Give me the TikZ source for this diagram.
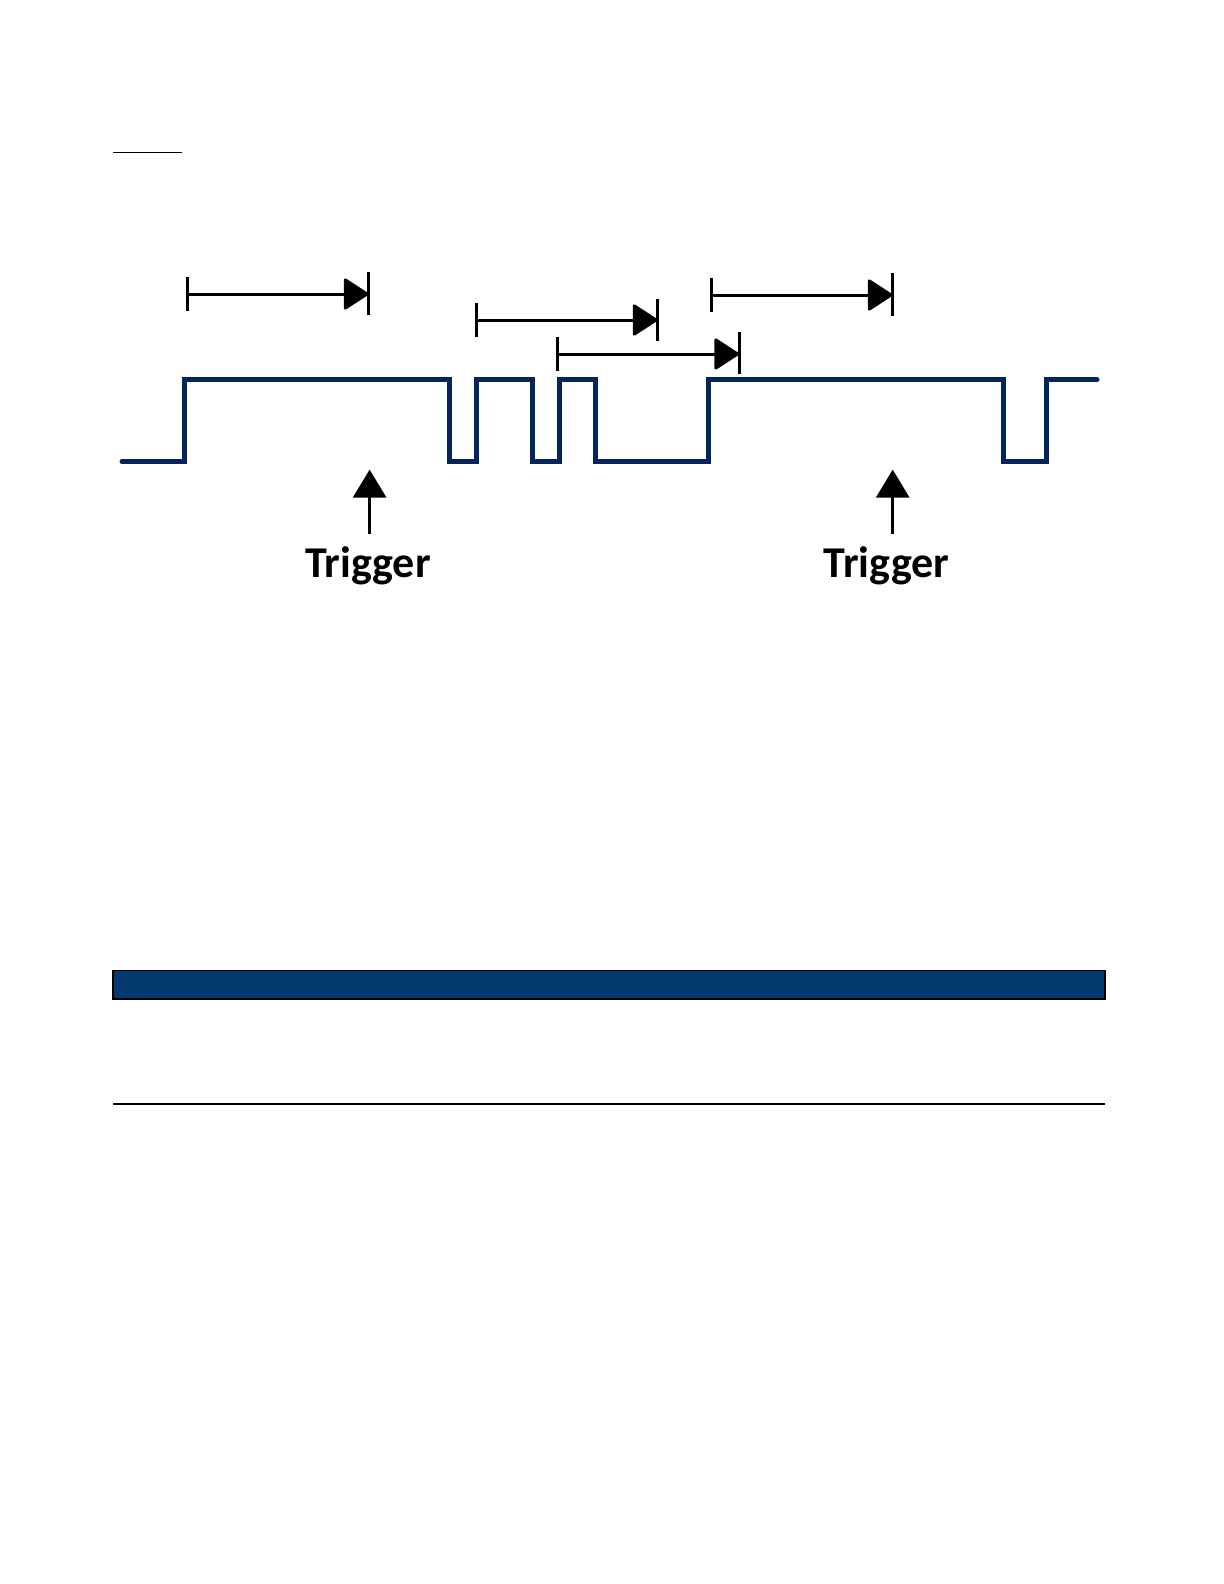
\documentclass[tikz,border=0pt]{standalone}
\usepackage{fontspec}
\setmainfont{Carlito}
\usetikzlibrary{arrows.meta}
\definecolor{wave}{RGB}{6,36,92}
\definecolor{barblue}{RGB}{2,58,112}
\tikzset{
  wavestyle/.style={draw=wave,line width=2.5pt,line join=miter,line cap=round},
  measure/.style={draw=black,line width=1.5pt,-{Triangle[length=13pt,width=16.5pt,round]}},
  tickbar/.style={draw=black,line width=1.5pt},
  trig/.style={draw=black,line width=1.5pt,-{Triangle[length=14pt,width=16.5pt]}},
  triglabel/.style={font=\bfseries\fontsize{22}{26}\selectfont,inner sep=0pt,anchor=base}
}
\begin{document}
\begin{tikzpicture}[x=0.5pt,y=-0.5pt]
\useasboundingbox (0,0) rectangle (1224,1584);
% top short rule
\coordinate (r1) at (113,152.5);
\coordinate (r2) at (182,152.5);
\draw[line width=0.6pt] (r1) -- (r2);
% waveform
\draw[wavestyle] (122,461.5) -- (184,461.5) -- (184,379.7) -- (449,379.7) -- (449,461.5)
  -- (476.5,461.5) -- (476.5,379.7) -- (532,379.7) -- (532,461.5)
  -- (559.5,461.5) -- (559.5,379.7) -- (595,379.7) -- (595,461.5)
  -- (708,461.5) -- (708,379.7) -- (1003,379.7) -- (1003,461.5)
  -- (1046,461.5) -- (1046,379.7) -- (1097,379.7);
% measurement arrow 1
\coordinate (a1s) at (187,294);
\coordinate (a1e) at (368.5,294);
\draw[tickbar] (187,277) -- (187,311);
\draw[tickbar] (368.5,272) -- (368.5,315);
\draw[measure] (a1s) -- (a1e);
% measurement arrow 2
\coordinate (a2s) at (476,320);
\coordinate (a2e) at (657.5,320);
\draw[tickbar] (476,303) -- (476,337);
\draw[tickbar] (657.5,299) -- (657.5,341);
\draw[measure] (a2s) -- (a2e);
% measurement arrow 3
\coordinate (a3s) at (557.5,354);
\coordinate (a3e) at (739,354);
\draw[tickbar] (557.5,337) -- (557.5,371);
\draw[tickbar] (739,332) -- (739,374);
\draw[measure] (a3s) -- (a3e);
% measurement arrow 4
\coordinate (a4s) at (711,295);
\coordinate (a4e) at (892.5,295);
\draw[tickbar] (711,278) -- (711,312);
\draw[tickbar] (892.5,273) -- (892.5,316);
\draw[measure] (a4s) -- (a4e);
% triggers
\coordinate (t1b) at (369.6,534);
\coordinate (t1t) at (369.6,469.6);
\draw[trig] (t1b) -- (t1t);
\node[triglabel] (l1) at (368,577) {Trigger};
\coordinate (t2b) at (892.7,534);
\coordinate (t2t) at (892.7,469.6);
\draw[trig] (t2b) -- (t2t);
\node[triglabel] (l2) at (886.5,577) {Trigger};
% blue bar
\draw[fill=barblue,draw=black,line width=0.6pt] (113,970.5) rectangle (1105,999);
% bottom rule
\coordinate (b1) at (113,1104);
\coordinate (b2) at (1105,1104);
\draw[line width=0.7pt] (b1) -- (b2);
\end{tikzpicture}
\end{document}
